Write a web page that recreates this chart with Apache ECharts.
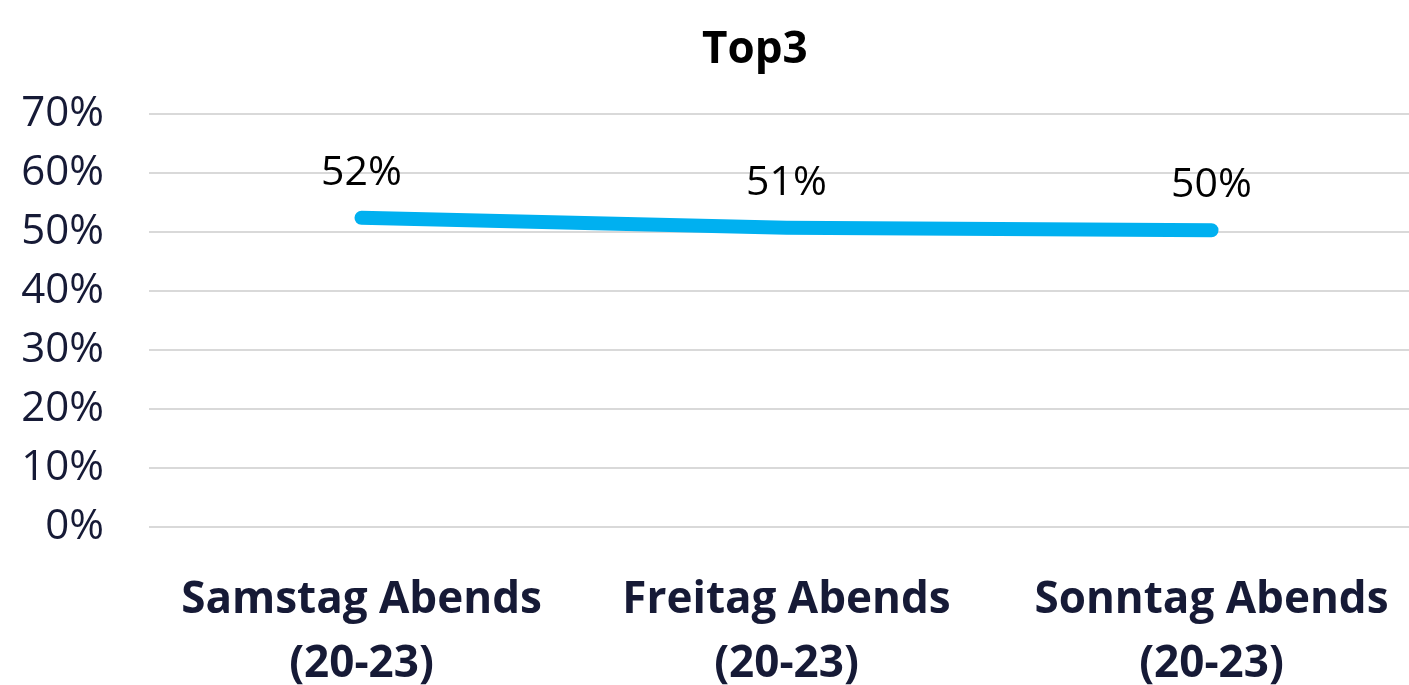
<!DOCTYPE html>
<html>
<head>
<meta charset="utf-8">
<script src="https://cdn.jsdelivr.net/npm/echarts@6/dist/echarts.min.js"></script>
<style>
  html, body { margin: 0; padding: 0; background: #fff; }
  #main { width: 1409px; height: 685px; }
</style>
</head>
<body>
<div id="main"></div>
<script>
// Kategorien und Werte (Anteil in %)
var categories = ['Samstag Abends\n(20-23)', 'Freitag Abends\n(20-23)', 'Sonntag Abends\n(20-23)'];
var values = [52.4, 50.7, 50.3];
var yTicks = [0, 10, 20, 30, 40, 50, 60, 70];

var myChart = echarts.init(document.getElementById('main'));

var option = {
    backgroundColor: '#ffffff',
    title: {
        text: 'Top3',
        left: 697,
        top: 23,
        textStyle: {
            fontFamily: 'Open Sans',
            fontWeight: 'bold',
            fontSize: 44,
            color: '#000'
        }
    },
    grid: {
        left: 149,
        right: -15,
        top: 114,
        bottom: 158,
        outerBoundsMode: 'none'
    },
    xAxis: {
        type: 'category',
        data: categories,
        axisLine: { show: false },
        axisTick: { show: false },
        axisLabel: {
            interval: 0,
            margin: 41,
            fontFamily: 'Open Sans',
            fontWeight: 'bold',
            fontSize: 44,
            lineHeight: 64,
            color: '#161a36'
        }
    },
    yAxis: {
        type: 'value',
        min: yTicks[0],
        max: yTicks[yTicks.length - 1],
        interval: 10,
        axisLine: { show: false },
        axisTick: { show: false },
        axisLabel: {
            margin: 45,
            fontFamily: 'Open Sans',
            fontSize: 42,
            color: '#161a36',
            formatter: '{value}%'
        },
        splitLine: {
            lineStyle: { color: '#d9d9d9', width: 2 }
        }
    },
    series: [{
        type: 'line',
        data: values,
        showSymbol: true,
        symbol: 'circle',
        symbolSize: 1,
        itemStyle: { color: '#00b0f0', opacity: 0 },
        lineStyle: { color: '#00b0f0', width: 14, cap: 'round', join: 'round' },
        label: {
            show: true,
            position: 'top',
            distance: 24,
            fontFamily: 'Open Sans',
            fontSize: 41,
            color: '#000',
            opacity: 1,
            formatter: function (p) { return Math.round(p.value) + '%'; }
        }
    }]
};

myChart.setOption(option);
</script>
</body>
</html>
